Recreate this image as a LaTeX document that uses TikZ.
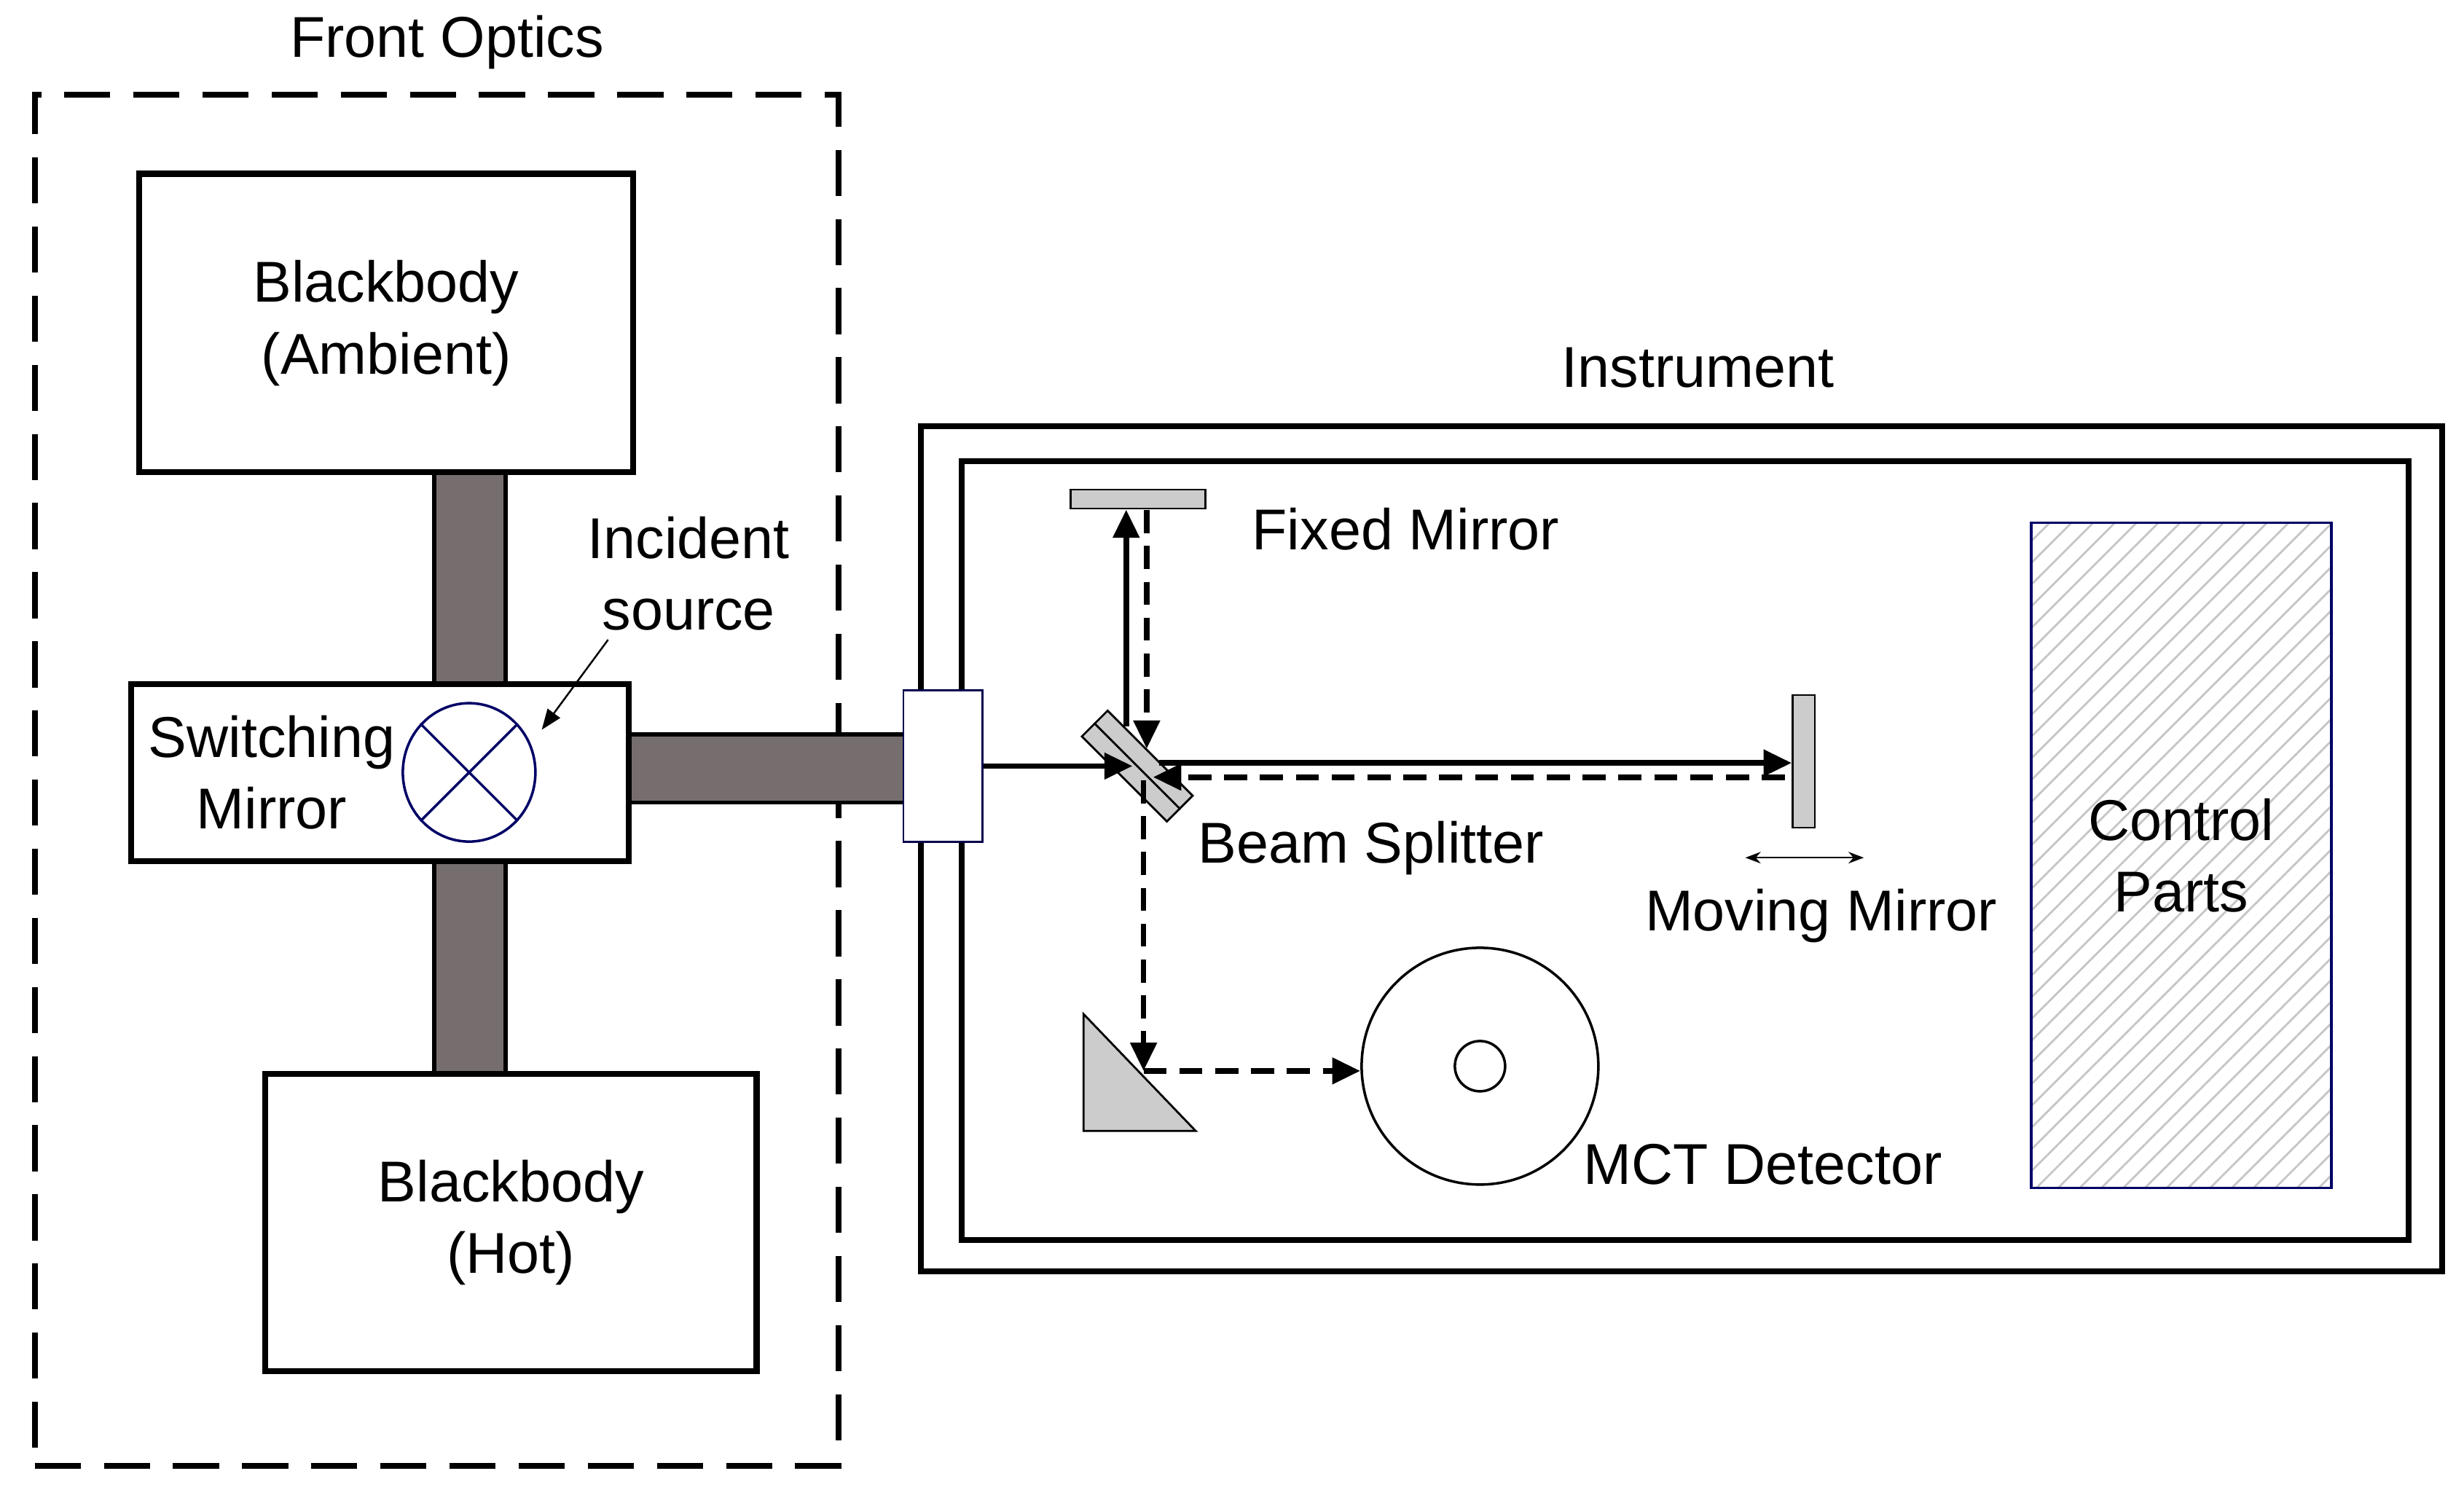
\documentclass[tikz,border=0pt]{standalone}
\usepackage{fontspec}
\setmainfont{Liberation Sans}
\usetikzlibrary{fit,arrows.meta,patterns.meta,shapes.geometric}
\begin{document}
\begin{tikzpicture}[x=0.02168cm,y=-0.02168cm,
  box/.style={draw,line width=2.3pt,inner sep=0pt,fill=white,align=center},
  lbl/.style={font=\fontsize{22.5}{28}\selectfont,align=center,inner sep=0pt},
  bar/.style={draw,line width=1.6pt,fill={rgb,255:red,118;green,110;blue,110}},
  gmirror/.style={draw,line width=0.8pt,fill=gray!40,inner sep=0pt},
  beam/.style={line width=2.2pt,-{Triangle[length=11pt,width=10pt]}},
  dbeam/.style={beam,dash pattern=on 9pt off 5pt}]
\useasboundingbox (0,0) rectangle (1560,941);
% front optics
\node[lbl] (fo) at (283,27) {Front Optics};
\node[draw,line width=2.3pt,dash pattern=on 18pt off 9pt,inner sep=0pt,fit={(22,60)(531,928)}] (fobox) {};
% beams
\draw[bar] (275,290) rectangle (320,440);
\draw[bar] (275,540) rectangle (320,688);
\draw[bar] (392,465) rectangle (575,508);
\node[box,fit={(88,110)(401,299)}] (bbA) {};
\node[lbl] at (bbA.center) {Blackbody\\(Ambient)};
\node[box,fit={(168,680)(479,868)}] (bbH) {};
\node[lbl] at (bbH.center) {Blackbody\\(Hot)};
\node[box,fit={(83,433)(398,545)}] (sw) {};
\node[lbl] (swt) at (172,489) {Switching\\Mirror};
\node[draw=blue!40!black,line width=1pt,ellipse,minimum width=1.82cm,minimum height=1.9cm,inner sep=0pt] (src) at (297,489) {};
\draw[blue!40!black,line width=1pt] (src.45)--(src.225) (src.135)--(src.315);
\node[lbl] (inc) at (436,363) {Incident\\source};
\coordinate (incA) at (385,405);
\coordinate (incB) at (343,462);
\draw[line width=0.7pt,-{Triangle[length=8pt,width=6pt]}] (incA)--(incB);
% instrument
\node[lbl] (inst) at (1075,233) {Instrument};
\node[draw,line width=2.3pt,inner sep=0pt,fit={(583,270)(1546,805)}] (outer) {};
\node[draw,line width=2.3pt,inner sep=0pt,fit={(609,292)(1525,785)}] (inner) {};
\node[draw=blue!30!black,line width=0.8pt,fill=white,inner sep=0pt,fit={(572,437)(622,533)}] (port) {};
\node[gmirror,fit={(678,310)(763,322)}] (fm) {};
\node[lbl] (fmt) at (890,335) {Fixed Mirror};
\node[gmirror,fit={(1135,440)(1149,524)}] (mm) {};
\node[lbl] (mmt) at (1153,580) {Moving Mirror};
\coordinate (mmA) at (1105,543);
\coordinate (mmB) at (1180,543);
\draw[line width=0.7pt,{Stealth[length=6pt]}-{Stealth[length=6pt]}] (mmA)--(mmB);
\node[gmirror,minimum width=1.65cm,minimum height=0.5cm,rotate=-45] (bs) at (720,485) {};
\draw[line width=0.8pt] (bs.west)--(bs.east);
\node[lbl] (bst) at (868,537) {Beam Splitter};
\coordinate (pr) at (724,678);
\draw[gmirror] (686,642) -- (686,716) -- (757,716) -- cycle;
\node[draw,circle,line width=1pt,minimum size=3.25cm,inner sep=0pt] (det) at (937,675) {};
\node[draw,circle,line width=1pt,minimum size=0.69cm,inner sep=0pt] (deti) at (937,675) {};
\node[lbl] (dett) at (1116,737) {MCT Detector};
\node[draw=blue!40!black,line width=1pt,inner sep=0pt,
  pattern={Lines[angle=45,distance=6pt,line width=0.8pt]},pattern color=gray!45,fit={(1286,331)(1476,752)}] (cp) {};
\node[lbl] at (cp.center) {Control\\Parts};
% optical paths
\draw[beam] (port.east |- 0,485) -- (717,485);
\draw[beam] (734,483) -- (mm.west |- 0,483);
\draw[beam] (713,460) -- (fm.south -| 713,0);
\draw[dbeam] (726,323) -- (726,474);
\draw[dbeam] (1130,492) -- (730,492);
\draw[dbeam] (724,494) -- (pr);
\draw[dbeam] (pr) -- (det.west |- pr);
\end{tikzpicture}
\end{document}
